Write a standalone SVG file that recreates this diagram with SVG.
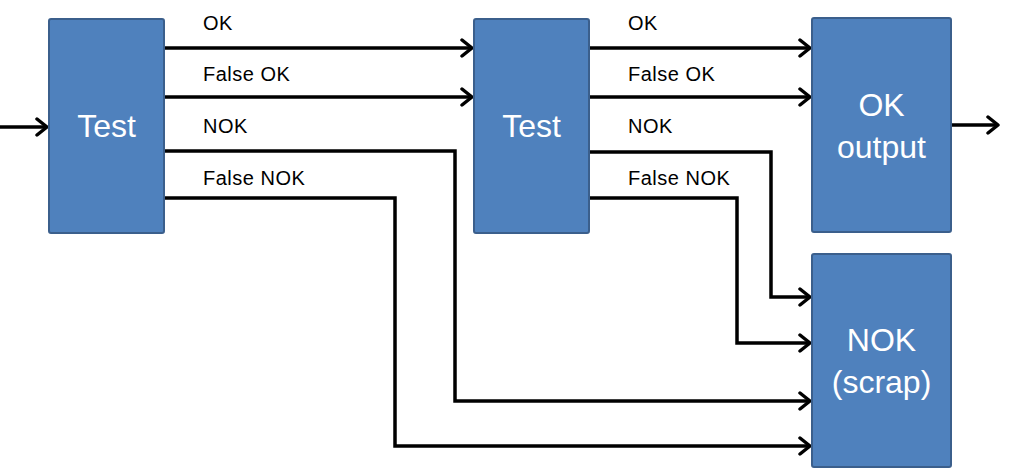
<svg xmlns="http://www.w3.org/2000/svg" width="1023" height="469" viewBox="0 0 1023 469">
<defs>
<style>
.box{fill:#4F81BD;stroke:#3B5F8C;stroke-width:2}
.big{font-family:"Liberation Sans",Arial,sans-serif;font-size:32px;fill:#fff;text-anchor:middle}
.lbl{font-family:"Liberation Sans",Arial,sans-serif;font-size:20px;fill:#000;letter-spacing:0.5px}
.ln{fill:none;stroke:#000;stroke-width:3.5;stroke-linejoin:miter}
.arr{marker-end:url(#ah)}
</style>
<marker id="ah" markerUnits="userSpaceOnUse" viewBox="-14 -10 16 20" refX="0" refY="0" markerWidth="16" markerHeight="20" orient="auto">
<path d="M-10,-8 L0,0 L-10,8" fill="none" stroke="#000" stroke-width="3.5" stroke-linecap="round" stroke-linejoin="round"/>
</marker>
</defs>
<rect width="1023" height="469" fill="#fff"/>
<g id="connectors">
<path class="ln arr" d="M0,127 H47"/>
<path class="ln arr" d="M164,48 H472"/>
<path class="ln arr" d="M164,97 H472"/>
<path class="ln arr" d="M164,151 H455 V401 H810"/>
<path class="ln arr" d="M164,198 H395 V446 H810"/>
<path class="ln arr" d="M589,48 H810"/>
<path class="ln arr" d="M589,97 H810"/>
<path class="ln arr" d="M589,152 H771 V297 H810"/>
<path class="ln arr" d="M589,198 H737 V343 H810"/>
<path class="ln arr" d="M952,125 H998"/>
</g>
<g id="labels">
<text class="lbl" x="203" y="30">OK</text>
<text class="lbl" x="203" y="81">False OK</text>
<text class="lbl" x="203" y="133">NOK</text>
<text class="lbl" x="203" y="185">False NOK</text>
<text class="lbl" x="628" y="30">OK</text>
<text class="lbl" x="628" y="81">False OK</text>
<text class="lbl" x="628" y="133">NOK</text>
<text class="lbl" x="628" y="185">False NOK</text>
</g>
<g id="test1">
<rect class="box" x="49" y="19" width="115" height="214" rx="2"/>
<text class="big" x="106.5" y="137">Test</text>
</g>
<g id="test2">
<rect class="box" x="474" y="19" width="115" height="214" rx="2"/>
<text class="big" x="531.5" y="137">Test</text>
</g>
<g id="ok-output">
<rect class="box" x="812" y="18" width="139" height="214" rx="2"/>
<text class="big" x="881.5" y="116">OK</text>
<text class="big" x="881.5" y="158">output</text>
</g>
<g id="nok-scrap">
<rect class="box" x="812" y="254" width="139" height="213" rx="2"/>
<text class="big" x="881.5" y="351">NOK</text>
<text class="big" x="881.5" y="393">(scrap)</text>
</g>
</svg>
